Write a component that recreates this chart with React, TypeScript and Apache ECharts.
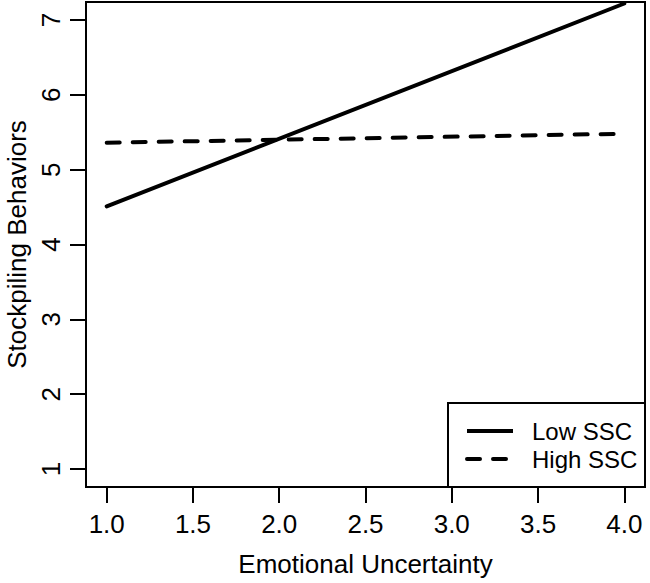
import React, { useEffect, useRef } from "react";
import * as echarts from "echarts";

const xTicks = [1.0, 1.5, 2.0, 2.5, 3.0, 3.5, 4.0];
const yTicks = [1, 2, 3, 4, 5, 6, 7];
const xRange = [1, 4];
const lowSSC = [4.51, 7.22];
const highSSC = [5.36, 5.48];
const seriesNames = ["Low SSC", "High SSC"];

const FONT = "'Liberation Sans', Arial, Helvetica, sans-serif";

export default function App() {
  const ref = useRef<HTMLDivElement>(null);
  useEffect(() => {
    document.body.style.margin = "0";
    const chart = echarts.init(ref.current!, null, { renderer: "svg" });
    const lowData = xRange.map((x, i) => [x, lowSSC[i]]);
    const highData = xRange.map((x, i) => [x, highSSC[i]]);
    chart.setOption({
      animation: false,
      backgroundColor: "#ffffff",
      textStyle: { fontFamily: FONT, color: "#000" },
      grid: {
        left: 86,
        top: 2,
        right: 5,
        bottom: 96,
        containLabel: false,
        outerBoundsMode: "none",
        show: true,
        borderColor: "#000",
        borderWidth: 2,
        backgroundColor: "transparent",
      },
      xAxis: {
        type: "value",
        min: 0.88,
        max: 4.12,
        name: "Emotional Uncertainty",
        nameLocation: "middle",
        nameGap: 64,
        nameTextStyle: { fontSize: 26, color: "#000", fontFamily: FONT },
        splitLine: { show: false },
        axisLine: { show: false },
        axisTick: {
          show: true,
          length: 16,
          customValues: xTicks,
          lineStyle: { color: "#000", width: 2 },
        },
        axisLabel: {
          customValues: xTicks,
          formatter: (v: number) => v.toFixed(1),
          fontSize: 26,
          color: "#000",
          fontFamily: FONT,
          margin: 24,
        },
      },
      yAxis: {
        type: "value",
        min: 0.76,
        max: 7.24,
        name: "Stockpiling Behaviors",
        nameLocation: "middle",
        nameGap: 56,
        nameRotate: 90,
        nameTextStyle: { fontSize: 26, color: "#000", fontFamily: FONT },
        splitLine: { show: false },
        axisLine: { show: false },
        axisTick: {
          show: true,
          length: 16,
          customValues: yTicks,
          lineStyle: { color: "#000", width: 2 },
        },
        axisLabel: {
          customValues: yTicks,
          rotate: 90,
          fontSize: 26,
          color: "#000",
          fontFamily: FONT,
          margin: 22,
        },
      },
      series: [
        {
          name: seriesNames[0],
          type: "line",
          data: lowData,
          showSymbol: false,
          lineStyle: { color: "#000", width: 4, cap: "round" },
        },
        {
          name: seriesNames[1],
          type: "line",
          data: highData,
          showSymbol: false,
          lineStyle: { color: "#000", width: 4, type: [13, 13], cap: "round" },
        },
      ],
      graphic: [
        {
          type: "rect",
          shape: { x: 448, y: 403, width: 197, height: 84 },
          style: { fill: "#fff", stroke: "#000", lineWidth: 2 },
          z: 100,
        },
        {
          type: "line",
          shape: { x1: 467, y1: 431, x2: 513, y2: 431 },
          style: { stroke: "#000", lineWidth: 4 },
          z: 101,
        },
        {
          type: "line",
          shape: { x1: 467, y1: 459, x2: 513, y2: 459 },
          style: { stroke: "#000", lineWidth: 4, lineDash: [13, 13], lineCap: "round" },
          z: 101,
        },
        {
          type: "text",
          x: 532,
          y: 431,
          style: {
            text: seriesNames[0],
            font: `24px ${FONT}`,
            fill: "#000",
            verticalAlign: "middle",
          },
          z: 101,
        },
        {
          type: "text",
          x: 532,
          y: 459,
          style: {
            text: seriesNames[1],
            font: `24px ${FONT}`,
            fill: "#000",
            verticalAlign: "middle",
          },
          z: 101,
        },
      ],
    });
    return () => chart.dispose();
  }, []);
  return (
    <div
      ref={ref}
      style={{ width: 650, height: 583, position: "absolute", left: 0, top: 0 }}
    />
  );
}
